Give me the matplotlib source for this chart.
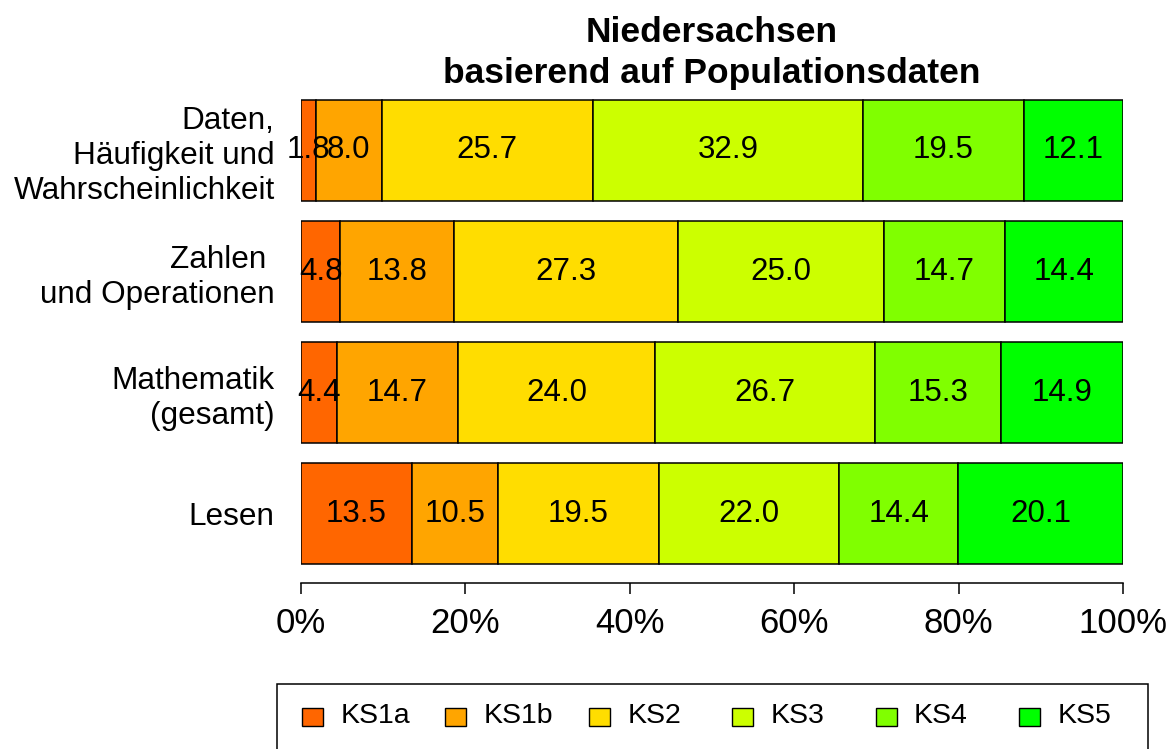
import matplotlib
matplotlib.use("Agg")
import matplotlib.pyplot as plt
from matplotlib.patches import Rectangle
import numpy as np

plt.rcParams['font.family'] = ['Liberation Sans', 'DejaVu Sans']

# ---- data (top to bottom as displayed) ----
categories = ["Daten,\nHäufigkeit und\nWahrscheinlichkeit",
              "Zahlen \nund Operationen",
              "Mathematik\n(gesamt)",
              "Lesen"]
levels = ["KS1a", "KS1b", "KS2", "KS3", "KS4", "KS5"]
ks1a = [1.8, 4.8, 4.4, 13.5]
ks1b = [8.0, 13.8, 14.7, 10.5]
ks2 = [25.7, 27.3, 24.0, 19.5]
ks3 = [32.9, 25.0, 26.7, 22.0]
ks4 = [19.5, 14.7, 15.3, 14.4]
ks5 = [12.1, 14.4, 14.9, 20.1]
series = [ks1a, ks1b, ks2, ks3, ks4, ks5]
colors = ["#FF6600", "#FFA500", "#FFDD00", "#CCFF00", "#80FF00", "#00FF00"]
xticks = [0, 20, 40, 60, 80, 100]
xticklabels = ["0%", "20%", "40%", "60%", "80%", "100%"]
title = "Niedersachsen\nbasierend auf Populationsdaten"

W, H = 1172, 749
fig = plt.figure(figsize=(W / 100, H / 100), dpi=100)
ax = fig.add_axes([301 / W, 1 - 583 / H, (1123 - 301) / W, (583 - 81.3) / H])

# R barplot positions (space=0.2): bottom bar centre 0.7, step 1.2
n = len(categories)
ypos = np.array([0.7 + 1.2 * (n - 1 - i) for i in range(n)])

left = np.zeros(n)
for vals, col, lab in zip(series, colors, levels):
    bars = ax.barh(ypos, vals, height=1.0, left=left, color=col,
                   edgecolor="black", linewidth=1.1, label=lab)
    ax.bar_label(bars, labels=[f"{v:.1f}" for v in vals], label_type="center",
                 fontsize=22.5, color="black")
    left = left + np.array(vals)

ax.set_xlim(0, 100)
ax.set_ylim(0.016, 4.984)
ax.set_yticks(ypos)
ax.set_yticklabels(categories, fontsize=22.7, linespacing=1.22)
ax.tick_params(axis="y", length=0, pad=19)
ax.set_xticks(xticks)
ax.set_xticklabels(xticklabels, fontsize=25)
ax.tick_params(axis="x", length=8, width=1.1, pad=9, direction="out")
for s in ["top", "right", "left"]:
    ax.spines[s].set_visible(False)
ax.spines["bottom"].set_linewidth(1.1)
ax.spines["bottom"].set_bounds(0, 100)

fig.text(712 / W, 1 - 90 / H, title, ha="center", va="bottom",
         fontsize=25.5, fontweight="bold", linespacing=1.3)

# ---- legend (R-style horizontal legend box, cut at figure bottom) ----
fig.add_artist(Rectangle((277 / W, -0.05), (1148 - 277) / W, 0.05 + (749 - 684) / H,
                         transform=fig.transFigure, facecolor="none",
                         edgecolor="black", linewidth=1.1, clip_on=False))
sqw, sqh = 21, 18
for i, (lab, col) in enumerate(zip(levels, colors)):
    cx = 312.5 + i * 143.4
    cy = 717
    fig.add_artist(Rectangle(((cx - sqw / 2) / W, 1 - (cy + sqh / 2) / H), sqw / W, sqh / H,
                             transform=fig.transFigure, facecolor=col,
                             edgecolor="black", linewidth=1.0))
    fig.text((cx + 28) / W, 1 - 716 / H, lab, ha="left", va="center", fontsize=20.5)

fig.savefig("out.png", dpi=100)
